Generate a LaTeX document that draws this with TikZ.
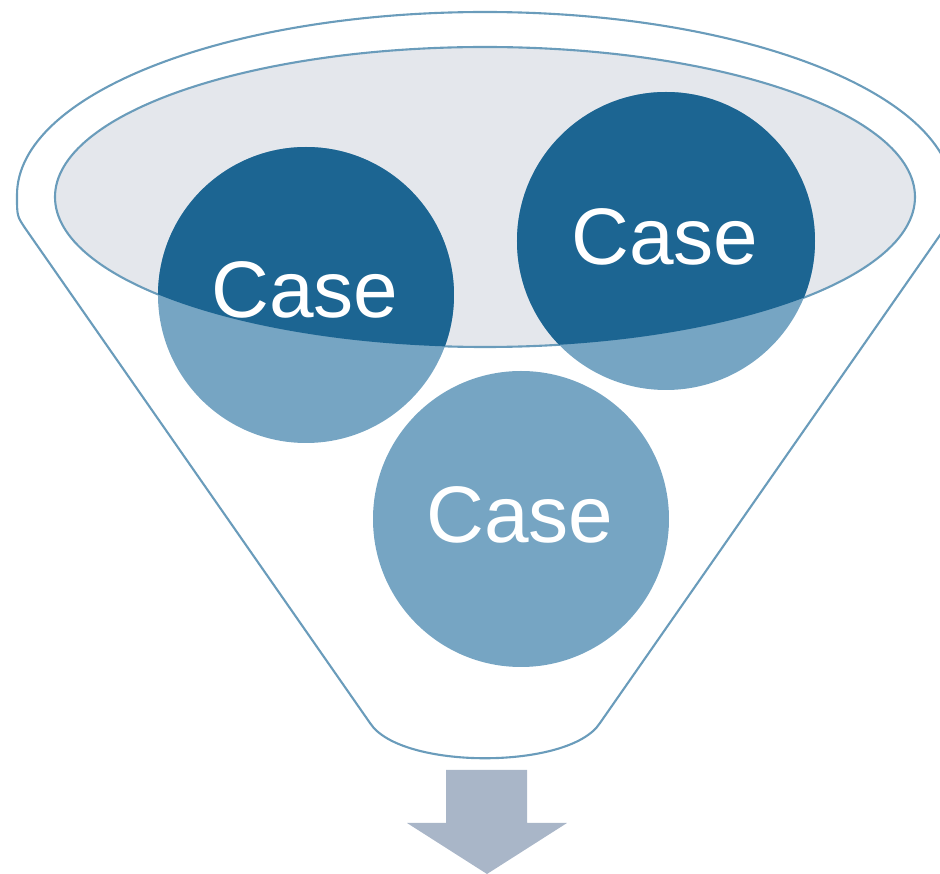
\documentclass[tikz,border=0pt]{standalone}
\usepackage{fontspec}
\setmainfont{Liberation Sans}
\definecolor{casedark}{HTML}{1C6592}
\definecolor{caselight}{HTML}{76A5C3}
\definecolor{rimgray}{HTML}{E4E7EC}
\definecolor{rimline}{HTML}{6A9CBB}
\definecolor{arrowgray}{HTML}{A9B6C8}
\tikzset{
  funnelline/.style={draw=rimline, line width=0.6pt},
  casetext/.style={text=white, font=\fontsize{22.8}{27}\selectfont, inner sep=0pt}
}
\begin{document}
\begin{tikzpicture}
\useasboundingbox (0,0) rectangle (9.4,8.74);
% outer funnel
\draw[funnelline] (0.17,6.79) arc[start angle=180, end angle=0, x radius=4.68, y radius=1.83]
.. controls (9.53,6.58) .. (9.45,6.46)--(6.00,1.51)
.. controls (5.70,1.04) and (4.00,1.04) .. (3.70,1.51)--(0.25,6.46)
.. controls (0.17,6.58) .. (0.17,6.79);
% rim
\draw[funnelline, fill=rimgray] (4.85,6.77) ellipse[x radius=4.30, y radius=1.50];
% circles
\fill[caselight] (3.06,5.79) circle[radius=1.48];
\fill[caselight] (6.66,6.33) circle[radius=1.49];
\fill[caselight] (5.21,3.55) circle[radius=1.48];
\begin{scope}
\clip (4.85,6.77) ellipse[x radius=4.30, y radius=1.50];
\fill[casedark] (3.06,5.79) circle[radius=1.48];
\fill[casedark] (6.66,6.33) circle[radius=1.49];
\end{scope}
\node[casetext] (caseA) at (3.05,5.84) {Case};
\node[casetext] (caseB) at (6.65,6.37) {Case};
\node[casetext] (caseC) at (5.20,3.59) {Case};
% arrow
\fill[arrowgray] (4.46,1.04)--(5.27,1.04)--(5.27,0.51)--(5.67,0.51)--(4.87,0)
--(4.07,0.51)--(4.46,0.51)--cycle;
\end{tikzpicture}
\end{document}
